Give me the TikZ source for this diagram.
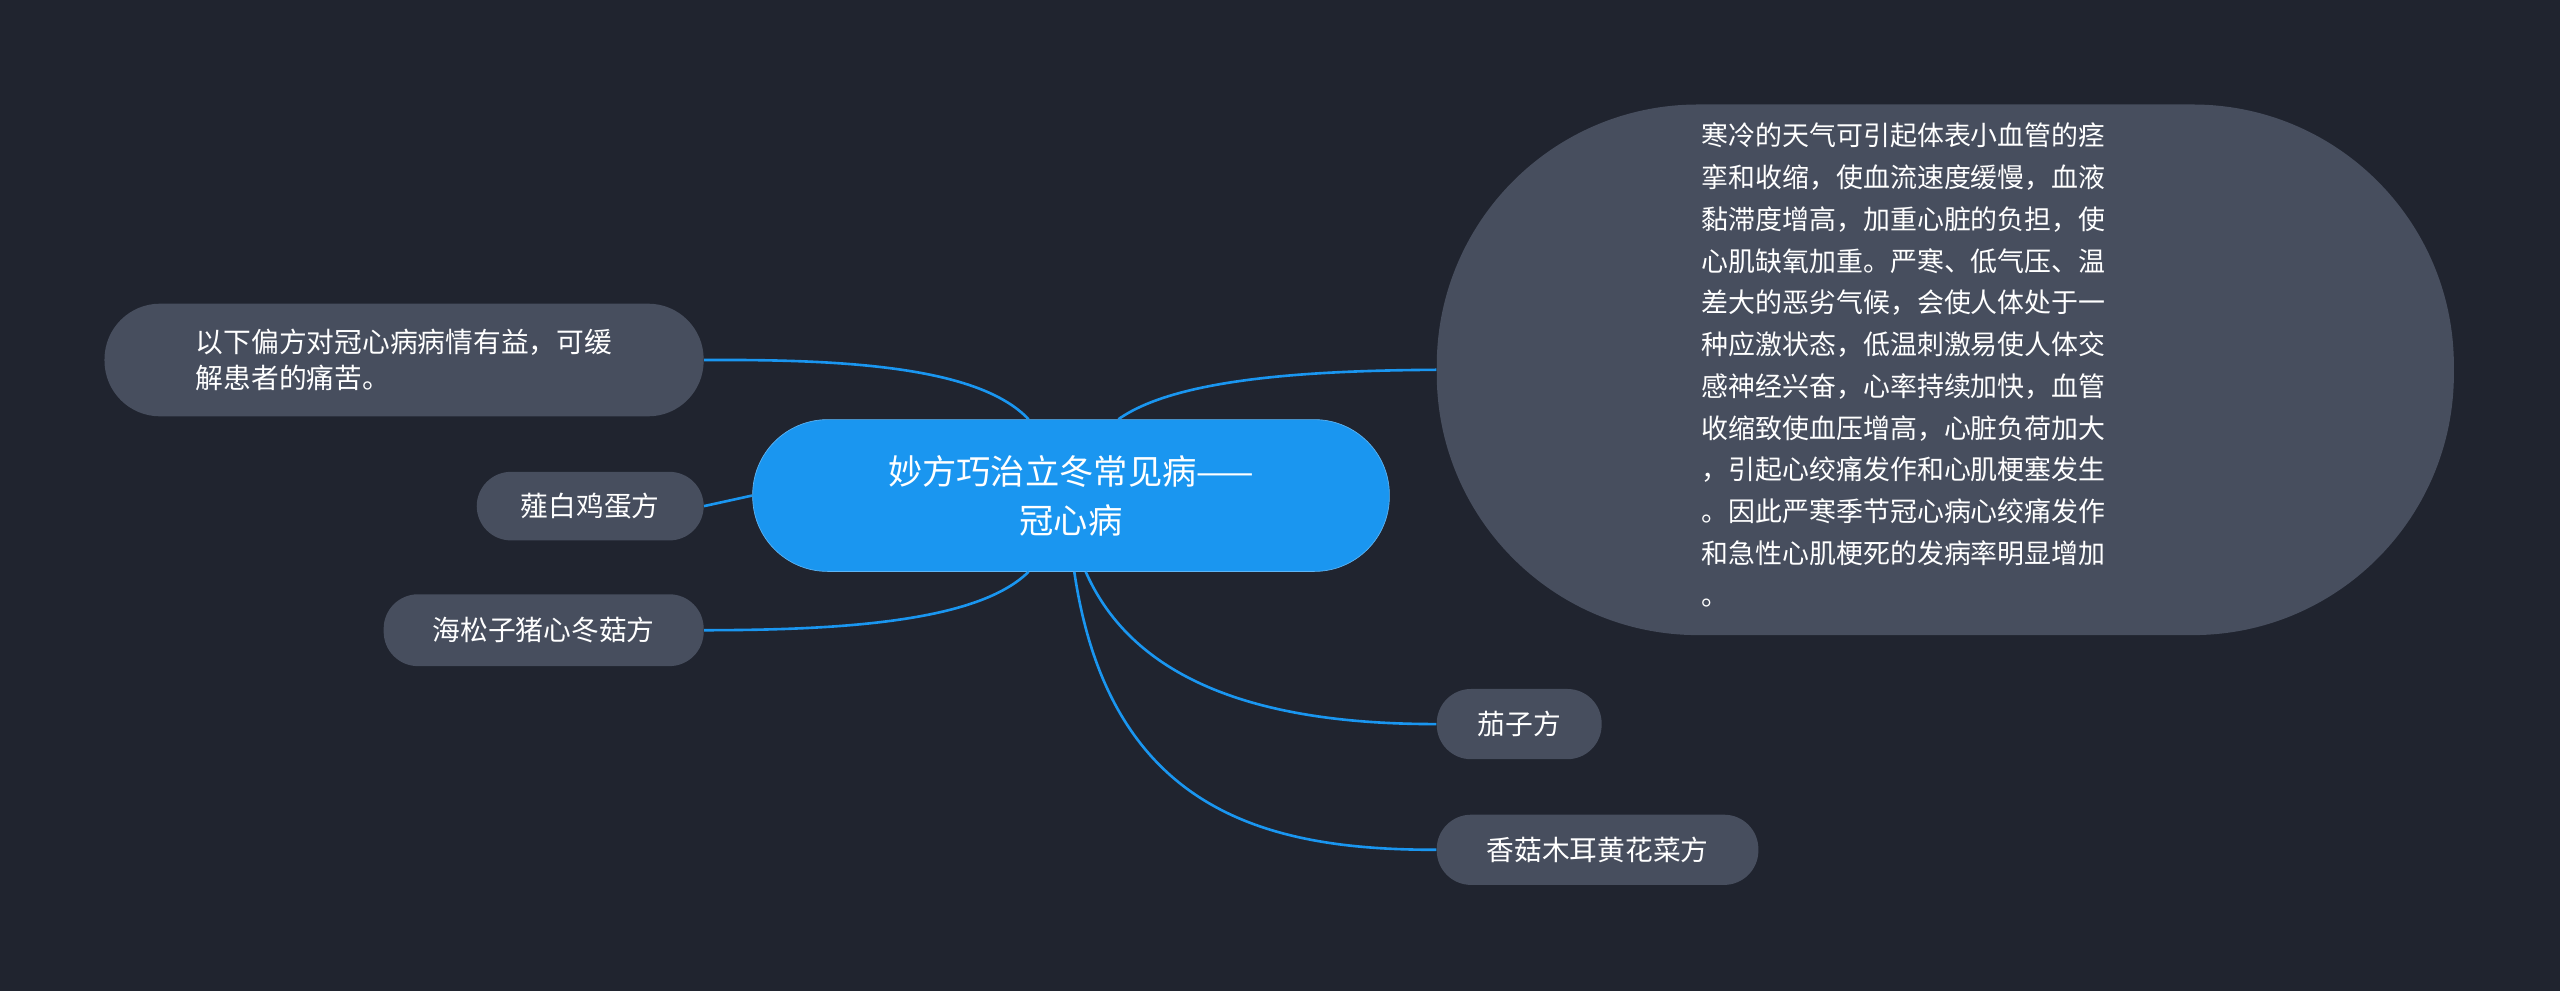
\documentclass[tikz,border=0pt]{standalone}
\usepackage{fontspec}
\setmainfont{Noto Sans CJK SC}
\definecolor{bg}{HTML}{20242F}
\definecolor{nodefill}{HTML}{474E5E}
\definecolor{blue}{HTML}{1A96F0}
\begin{document}
\begin{tikzpicture}[x=1pt,y=1pt,
  leaf/.style={fill=nodefill,text=white,rounded corners=21pt,minimum height=43pt,inner sep=0pt,font=\fontsize{17}{22}\selectfont},
  link/.style={draw=blue,line width=1.6pt}]
\fill[bg] (0,0) rectangle (1568,-607);
\useasboundingbox (0,0) rectangle (1568,-607);
\node[fill=blue,draw=blue!70!white,text=white,rounded corners=46pt,minimum width=390pt,minimum height=93pt,align=center,font=\fontsize{21}{30}\selectfont] (c) at (656,-303.5) {妙方巧治立冬常见病——\\冠心病};
\node[leaf,rounded corners=34pt,minimum width=367pt,minimum height=69pt,align=left] (n1) at (247.5,-220.5) {以下偏方对冠心病病情有益，可缓\\解患者的痛苦。};
\node[leaf,minimum width=139pt,minimum height=42pt] (n2) at (361.5,-310) {薤白鸡蛋方};
\node[leaf,minimum width=196pt,minimum height=44pt] (n3) at (333,-386) {海松子猪心冬菇方};
\node[fill=nodefill,rounded corners=160pt,minimum width=623pt,minimum height=325pt] (big) at (1191.5,-226.5) {};
\node[text=white,align=left,font=\fontsize{16.5}{25.6}\selectfont,anchor=north west,inner sep=0pt] (bt) at (1042,-75) {寒冷的天气可引起体表小血管的痉\\挛和收缩，使血流速度缓慢，血液\\黏滞度增高，加重心脏的负担，使\\心肌缺氧加重。严寒、低气压、温\\差大的恶劣气候，会使人体处于一\\种应激状态，低温刺激易使人体交\\感神经兴奋，心率持续加快，血管\\收缩致使血压增高，心脏负荷加大\\，引起心绞痛发作和心肌梗塞发生\\。因此严寒季节冠心病心绞痛发作\\和急性心肌梗死的发病率明显增加\\。};
\node[leaf,minimum width=101pt] (n5) at (930.5,-443.5) {茄子方};
\node[leaf,minimum width=197pt] (n6) at (978.5,-520.5) {香菇木耳黄花菜方};
\draw[link] ([xshift=-26pt]c.north) .. controls (600,-225) and (520,-220) .. (n1.east);
\draw[link] (c.west) -- (n2.east);
\draw[link] ([xshift=-26pt]c.south) .. controls (600,-380) and (520,-386) .. (n3.east);
\draw[link] ([xshift=29pt]c.north) .. controls (720,-232) and (800,-227) .. (big.west);
\draw[link] ([xshift=9pt]c.south) .. controls (700,-430) and (800,-443.5) .. (n5.west);
\draw[link] ([xshift=2pt]c.south) .. controls (680,-500) and (780,-520.5) .. (n6.west);
\end{tikzpicture}
\end{document}
